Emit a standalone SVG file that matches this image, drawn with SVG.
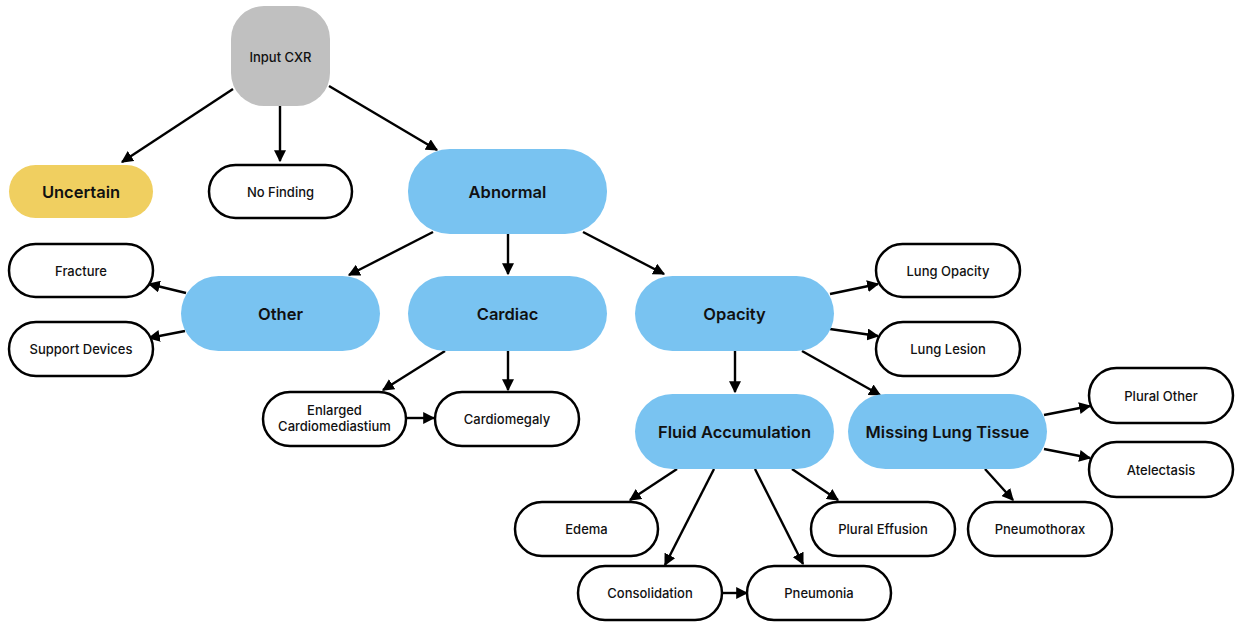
<svg xmlns="http://www.w3.org/2000/svg" width="1235" height="623" viewBox="0 0 1235 623">
<style>
.leaf{fill:#fff;stroke:#000;stroke-width:2.5}
.big{fill:#79c3f1}
.t{font-family:Inter,"Noto Sans","Liberation Sans",sans-serif;font-size:13px;font-weight:500;fill:#111;text-anchor:middle;dominant-baseline:central}
.tb{font-family:Inter,"Noto Sans","Liberation Sans",sans-serif;font-size:16.5px;font-weight:600;fill:#111;text-anchor:middle;dominant-baseline:central}
.c line{stroke:#000;stroke-width:2.4;marker-end:url(#ah)}
</style>
<defs>
<marker id="ah" viewBox="0 0 10 10" refX="9" refY="5" markerWidth="5" markerHeight="5" orient="auto" markerUnits="strokeWidth">
<path d="M0,0 L10,5 L0,10 z" fill="#000"/>
</marker>
</defs>
<rect width="1235" height="623" fill="#fff"/>
<g class="c" id="connectors">
<line x1="233" y1="89" x2="122" y2="162"/>
<line x1="280" y1="106" x2="280" y2="161"/>
<line x1="329" y1="86" x2="437" y2="150"/>
<line x1="433" y1="232" x2="349" y2="275"/>
<line x1="508" y1="234" x2="508" y2="274"/>
<line x1="583" y1="232" x2="664" y2="274"/>
<line x1="186" y1="293" x2="149" y2="284"/>
<line x1="185" y1="331" x2="149" y2="338"/>
<line x1="445" y1="351" x2="383" y2="390"/>
<line x1="508" y1="351" x2="508" y2="390"/>
<line x1="406" y1="418" x2="434" y2="418"/>
<line x1="830" y1="294" x2="878" y2="284"/>
<line x1="830" y1="329" x2="878" y2="336"/>
<line x1="735" y1="351" x2="735" y2="392"/>
<line x1="802" y1="351" x2="880" y2="395"/>
<line x1="677" y1="469" x2="630" y2="500"/>
<line x1="714" y1="469" x2="665" y2="565"/>
<line x1="755" y1="469" x2="803" y2="564"/>
<line x1="792" y1="469" x2="838" y2="500"/>
<line x1="1044" y1="415" x2="1090" y2="406"/>
<line x1="1044" y1="449" x2="1090" y2="458"/>
<line x1="985" y1="469" x2="1013" y2="500"/>
<line x1="722" y1="593" x2="747" y2="593"/>
</g>
<g id="input"><rect x="231" y="6" width="99" height="100" rx="33" fill="#c0c0c0"/><text class="t" x="280.5" y="57">Input CXR</text></g>
<g id="uncertain"><rect x="9" y="165" width="144" height="53" rx="26.5" fill="#f0cf60"/><text class="tb" x="81" y="191.5">Uncertain</text></g>
<g id="nofinding"><rect class="leaf" x="209" y="165" width="143" height="53" rx="26.5"/><text class="t" x="280.5" y="191.5">No Finding</text></g>
<g id="abnormal"><rect class="big" x="408" y="149" width="199" height="85" rx="42"/><text class="tb" x="507.5" y="191.5">Abnormal</text></g>
<g id="fracture"><rect class="leaf" x="9" y="244" width="144" height="53" rx="26.5"/><text class="t" x="81" y="270.5">Fracture</text></g>
<g id="support"><rect class="leaf" x="9" y="322" width="144" height="54" rx="27"/><text class="t" x="81" y="349">Support Devices</text></g>
<g id="other"><rect class="big" x="181" y="276" width="199" height="75" rx="37.5"/><text class="tb" x="280.5" y="313.5">Other</text></g>
<g id="cardiac"><rect class="big" x="408" y="276" width="199" height="75" rx="37.5"/><text class="tb" x="507.5" y="313.5">Cardiac</text></g>
<g id="opacity"><rect class="big" x="635" y="276" width="199" height="75" rx="37.5"/><text class="tb" x="734.5" y="313.5">Opacity</text></g>
<g id="lungopacity"><rect class="leaf" x="876" y="244" width="144" height="53" rx="26.5"/><text class="t" x="948" y="270.5">Lung Opacity</text></g>
<g id="lunglesion"><rect class="leaf" x="876" y="322" width="144" height="54" rx="27"/><text class="t" x="948" y="349">Lung Lesion</text></g>
<g id="enlarged"><rect class="leaf" x="263" y="392" width="143" height="54" rx="27"/><text class="t" x="334.5" y="410">Enlarged</text><text class="t" x="334.5" y="426">Cardiomediastium</text></g>
<g id="cardiomegaly"><rect class="leaf" x="435" y="392" width="144" height="54" rx="27"/><text class="t" x="507" y="419">Cardiomegaly</text></g>
<g id="fluid"><rect class="big" x="635" y="394" width="199" height="75" rx="37.5"/><text class="tb" x="734.5" y="431.5">Fluid Accumulation</text></g>
<g id="missing"><rect class="big" x="848" y="394" width="199" height="75" rx="37.5"/><text class="tb" x="947.5" y="431.5">Missing Lung Tissue</text></g>
<g id="pluralother"><rect class="leaf" x="1089" y="368" width="144" height="55" rx="27.5"/><text class="t" x="1161" y="395.5">Plural Other</text></g>
<g id="atelectasis"><rect class="leaf" x="1089" y="442" width="144" height="55" rx="27.5"/><text class="t" x="1161" y="469.5">Atelectasis</text></g>
<g id="edema"><rect class="leaf" x="515" y="502" width="143" height="54" rx="27"/><text class="t" x="586.5" y="529">Edema</text></g>
<g id="pluraleffusion"><rect class="leaf" x="811" y="502" width="144" height="54" rx="27"/><text class="t" x="883" y="529">Plural Effusion</text></g>
<g id="pneumothorax"><rect class="leaf" x="968" y="502" width="144" height="54" rx="27"/><text class="t" x="1040" y="529">Pneumothorax</text></g>
<g id="consolidation"><rect class="leaf" x="578" y="566" width="144" height="54" rx="27"/><text class="t" x="650" y="593">Consolidation</text></g>
<g id="pneumonia"><rect class="leaf" x="747" y="566" width="144" height="54" rx="27"/><text class="t" x="819" y="593">Pneumonia</text></g>
</svg>
